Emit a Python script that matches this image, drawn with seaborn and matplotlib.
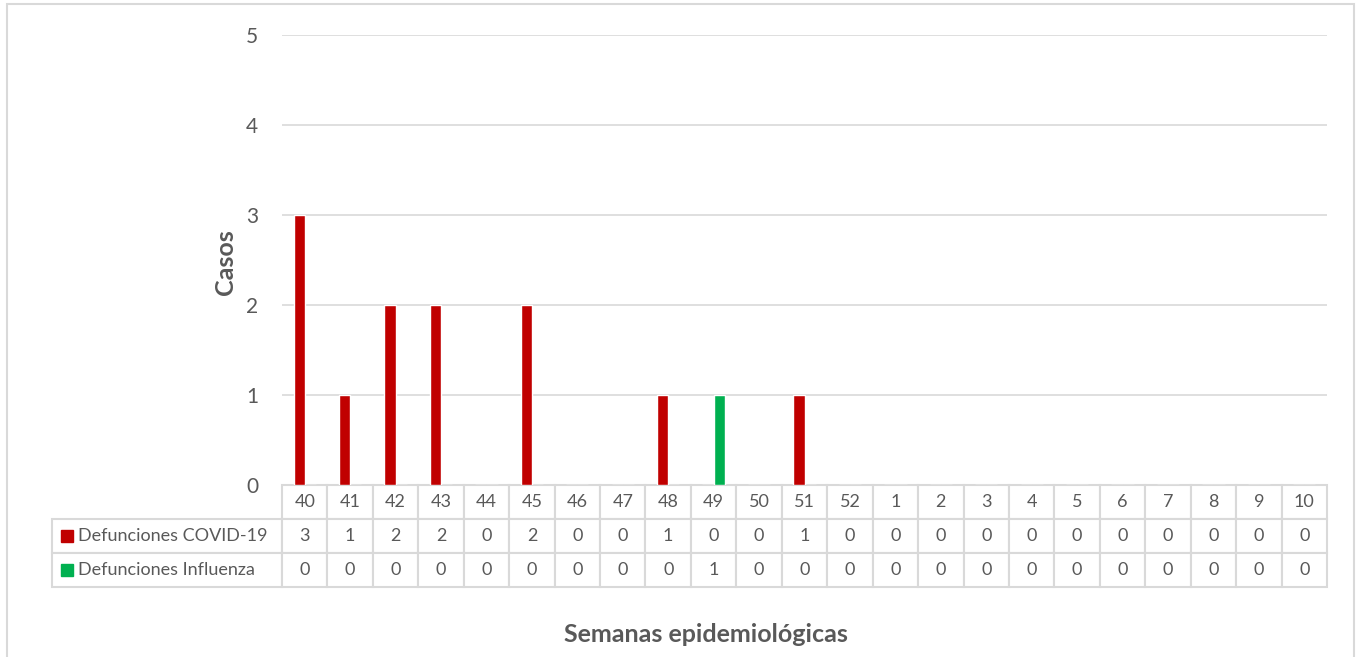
import pandas as pd
import seaborn as sns
import matplotlib.pyplot as plt
from matplotlib.patches import Rectangle
from matplotlib.table import Table

# data
semanas = ["40", "41", "42", "43", "44", "45", "46", "47", "48", "49", "50", "51", "52",
           "1", "2", "3", "4", "5", "6", "7", "8", "9", "10"]
covid = [3, 1, 2, 2, 0, 2, 0, 0, 1, 0, 0, 1, 0, 0, 0, 0, 0, 0, 0, 0, 0, 0, 0]
influenza = [0, 0, 0, 0, 0, 0, 0, 0, 0, 1, 0, 0, 0, 0, 0, 0, 0, 0, 0, 0, 0, 0, 0]
series = ["Defunciones COVID-19", "Defunciones Influenza"]
colores = {"Defunciones COVID-19": "#C00000", "Defunciones Influenza": "#00B050"}

df = pd.DataFrame({"Semana": semanas * 2,
                   "Serie": [series[0]] * len(semanas) + [series[1]] * len(semanas),
                   "Casos": covid + influenza})

sns.set_theme(style="white")
plt.rcParams['font.family'] = ['Lato', 'DejaVu Sans']
gris = "#595959"

W, H = 1356, 657
fig = plt.figure(figsize=(W / 100, H / 100), dpi=100)
x0, x1, y_top, y_bot = 282, 1327, 35, 485
ax = fig.add_axes([x0 / W, 1 - y_bot / H, (x1 - x0) / W, (y_bot - y_top) / H])

sns.barplot(data=df, x="Semana", y="Casos", hue="Serie", order=semanas,
            hue_order=series, palette=colores, width=0.49, gap=0,
            saturation=1, legend=False, ax=ax)

ax.set_ylim(0, 5)
ax.set_xlim(-0.5, len(semanas) - 0.5)
ax.set_yticks(range(0, 6))
ax.tick_params(axis="y", length=0, pad=17, labelsize=15, labelcolor=gris)
ax.set_xticks([])
ax.set_xlabel("")
ax.set_ylabel("")
for s in ax.spines.values():
    s.set_visible(False)
for v in range(1, 6):
    ax.axhline(v, color="#D9D9D9", lw=1.2, zorder=0)

fig.text(225 / W, 1 - 262 / H, "Casos", rotation=90, ha="center", va="center",
         fontsize=18, fontweight="bold", color=gris)

# data table below the plot
n = len(semanas)
col_w = 1.0 / n
lab_w = (x0 - 52) / (x1 - x0)
row_h = 34 / (y_bot - y_top)
tab = Table(ax, bbox=[0, -3 * row_h, 1, 3 * row_h])
for j, s in enumerate(semanas):
    tab.add_cell(0, j, col_w, row_h, text=s, loc="center", edgecolor="#D9D9D9")
for i, (nombre, vals) in enumerate(zip(series, [covid, influenza]), start=1):
    c = tab.add_cell(i, -1, lab_w, row_h, text=nombre, loc="left", edgecolor="#D9D9D9")
    c.PAD = 26 / (x0 - 52)
    for j, v in enumerate(vals):
        tab.add_cell(i, j, col_w, row_h, text=str(v), loc="center", edgecolor="#D9D9D9")
tab.auto_set_font_size(False)
tab.set_fontsize(13)
for cell in tab.get_celld().values():
    cell.set_linewidth(1.5)
    cell.get_text().set_color(gris)
ax.add_table(tab)

# legend squares in row labels
for i, nombre in enumerate(series):
    yc = y_bot + 34 * (i + 1) + 17
    fig.patches.append(Rectangle((61 / W, 1 - (yc + 6) / H), 12 / W, 12 / H,
                                 transform=fig.transFigure, color=colores[nombre]))

fig.text(706 / W, 1 - 635 / H, "Semanas epidemiológicas", ha="center", va="center",
         fontsize=18, fontweight="bold", color=gris)

# chart area border
fig.patches.append(Rectangle((7 / W, -0.01), (W - 9) / W, 1 - 4 / H + 0.01,
                             transform=fig.transFigure, fill=False,
                             edgecolor="#D9D9D9", lw=1.5))

fig.savefig("out.png", dpi=100)
